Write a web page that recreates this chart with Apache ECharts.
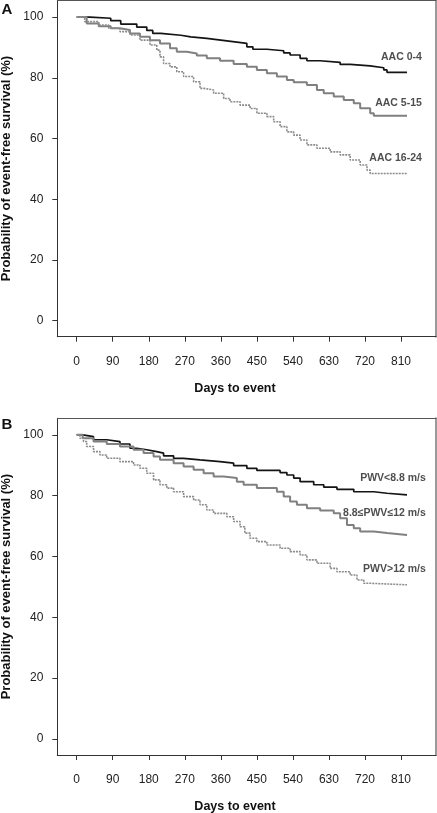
<!DOCTYPE html>
<html>
<head>
<meta charset="utf-8">
<script src="https://cdn.jsdelivr.net/npm/echarts@6/dist/echarts.min.js"></script>
<style>
html,body{margin:0;padding:0;background:#fff;}
#chart{width:437px;height:813px;}
</style>
</head>
<body>
<div id="chart"></div>
<script>
// ---- tick labels ----
var xTicks = [0, 90, 180, 270, 360, 450, 540, 630, 720, 810];
var yTicks = [0, 20, 40, 60, 80, 100];
var xTitle = 'Days to event';
var yTitle = 'Probability of event-free survival (%)';
var panelLetters = ['A', 'B'];

// ---- Panel A: AAC groups ----
var namesA = ['AAC 0-4', 'AAC 5-15', 'AAC 16-24'];
var dayA1 = [0, 33, 85, 110, 150, 175, 190, 210, 260, 285, 325, 360, 390, 425, 440, 475, 517, 533, 558, 575, 608, 658, 683, 733, 767, 775, 825];
var survA1 = [100, 99.6, 98.8, 97.7, 96.7, 95.6, 94.6, 94.0, 93.5, 93.0, 92.4, 91.9, 91.3, 90.2, 89.4, 88.9, 88.2, 87.5, 86.4, 85.6, 85.1, 84.4, 83.9, 83.3, 82.6, 81.8, 81.8];
var dayA2 = [0, 25, 55, 85, 108, 133, 158, 183, 208, 233, 250, 275, 300, 325, 358, 392, 425, 450, 475, 500, 525, 542, 575, 600, 617, 642, 667, 692, 708, 733, 742, 825];
var survA2 = [100, 97.9, 97.0, 96.3, 95.7, 94.6, 93.5, 92.4, 91.3, 89.7, 88.6, 88.0, 87.3, 86.4, 85.6, 84.5, 83.6, 82.6, 81.5, 80.4, 79.3, 78.5, 77.6, 76.0, 74.9, 73.8, 72.7, 71.6, 70.0, 68.3, 67.5, 67.5];
var dayA3 = [0, 20, 55, 80, 108, 133, 158, 183, 200, 208, 217, 233, 250, 267, 292, 308, 317, 342, 367, 383, 408, 433, 450, 475, 492, 508, 525, 542, 558, 575, 600, 633, 658, 683, 708, 725, 733, 825];
var survA3 = [100, 98.5, 97.4, 96.3, 95.2, 94.1, 92.4, 90.8, 89.1, 86.9, 84.7, 83.6, 82.0, 80.4, 78.7, 76.5, 76.0, 74.9, 73.2, 72.1, 71.0, 69.9, 68.3, 67.2, 65.5, 63.9, 62.2, 61.1, 59.5, 57.9, 56.8, 55.6, 54.6, 52.9, 51.3, 49.6, 48.5, 48.5];
// label anchor (right end) positions in data units
var labelDayA = [862, 862, 862];
var labelValA = [86.9, 71.7, 53.7];

// ---- Panel B: PWV groups ----
var namesB = ['PWV<8.8 m/s', '8.8\u2264PWV\u226412 m/s', 'PWV>12 m/s'];
var dayB1 = [0, 15, 42, 75, 108, 133, 150, 175, 200, 217, 242, 267, 308, 358, 392, 425, 450, 508, 525, 542, 558, 592, 617, 650, 692, 742, 775, 825];
var survB1 = [100, 99.4, 98.4, 97.8, 97.0, 95.6, 95.1, 94.5, 94.0, 93.1, 92.3, 91.8, 91.2, 90.7, 89.9, 89.0, 88.3, 87.6, 86.8, 85.8, 84.6, 83.6, 82.8, 82.1, 81.3, 80.8, 80.3, 80.3];
var dayB2 = [0, 15, 42, 75, 108, 142, 167, 192, 208, 242, 267, 292, 317, 342, 367, 400, 417, 450, 500, 517, 533, 550, 575, 608, 642, 658, 675, 692, 708, 742, 775, 825];
var survB2 = [100, 98.9, 97.8, 97.0, 96.2, 95.1, 94.0, 92.9, 91.8, 90.7, 89.6, 88.5, 87.4, 86.3, 85.8, 84.6, 83.6, 82.5, 81.3, 79.7, 78.1, 77.0, 75.9, 75.1, 74.2, 72.6, 70.4, 69.3, 68.2, 67.7, 67.1, 67.1];
var dayB3 = [0, 8, 17, 25, 42, 58, 75, 108, 142, 158, 175, 192, 208, 225, 242, 267, 292, 308, 325, 342, 375, 392, 408, 420, 433, 450, 475, 508, 533, 558, 575, 600, 633, 650, 683, 700, 717, 733, 825];
var survB3 = [100, 98.9, 97.8, 96.2, 94.5, 93.4, 92.3, 91.2, 90.1, 89.0, 87.4, 85.2, 83.6, 82.5, 81.3, 79.7, 78.6, 77.0, 75.3, 74.2, 73.1, 71.5, 69.8, 67.7, 66.0, 64.9, 63.8, 62.7, 61.6, 60.5, 58.9, 57.8, 56.1, 55.0, 53.9, 52.3, 51.2, 50.7, 50.7];
var labelDayB = [872, 872, 872];
var labelValB = [85.8, 74.2, 55.8];

// ---------------------------------------------------------------
var FONT = '"Liberation Sans", Arial, Helvetica, sans-serif';
var X_MIN = -48.45, X_MAX = 897.4;
var Y_MIN = -5.27, Y_MAX = 105.45;

function zip(a, b) { return a.map(function (v, i) { return [v, b[i]]; }); }

var styles = [
  { color: '#141414', width: 1.7, type: 'solid' },
  { color: '#808080', width: 2, type: 'solid' },
  { color: '#8c8c8c', width: 1.6, type: [2, 1] }
];

function bottomX(gi) {
  return {
    type: 'value', gridIndex: gi, min: X_MIN, max: X_MAX, position: 'bottom',
    splitLine: { show: false },
    axisLine: { show: true, onZero: false, lineStyle: { color: '#333', width: 1 } },
    axisTick: { show: true, length: 5, customValues: xTicks, lineStyle: { color: '#333' } },
    axisLabel: { show: true, customValues: xTicks, margin: 19, color: '#222', fontSize: 12, fontFamily: FONT }
  };
}
function topX(gi) {
  return {
    type: 'value', gridIndex: gi, min: X_MIN, max: X_MAX, position: 'top',
    splitLine: { show: false },
    axisLine: { show: true, onZero: false, lineStyle: { color: '#555', width: 1 } },
    axisTick: { show: false }, axisLabel: { show: false }
  };
}
function leftY(gi) {
  return {
    type: 'value', gridIndex: gi, min: Y_MIN, max: Y_MAX, position: 'left',
    name: yTitle, nameLocation: 'middle', nameGap: 44, nameRotate: 90, nameMoveOverlap: false,
    nameTextStyle: { fontSize: 13, fontWeight: 'bold', color: '#111', fontFamily: FONT },
    splitLine: { show: false },
    axisLine: { show: true, onZero: false, lineStyle: { color: '#333', width: 1 } },
    axisTick: { show: true, length: 5, customValues: yTicks, lineStyle: { color: '#333' } },
    axisLabel: { show: true, customValues: yTicks, margin: 14, color: '#222', fontSize: 12, fontFamily: FONT }
  };
}
function rightY(gi) {
  return {
    type: 'value', gridIndex: gi, min: Y_MIN, max: Y_MAX, position: 'right',
    splitLine: { show: false },
    axisLine: { show: true, onZero: false, lineStyle: { color: '#999', width: 2 } },
    axisTick: { show: false }, axisLabel: { show: false }
  };
}

function curve(name, days, vals, st, xi, yi) {
  return {
    type: 'line', name: name, xAxisIndex: xi, yAxisIndex: yi,
    step: 'end', showSymbol: false, symbol: 'none', animation: false,
    lineStyle: { color: st.color, width: st.width, type: st.type },
    data: zip(days, vals), z: 3
  };
}
function labels(names, ld, lv, xi, yi) {
  return {
    type: 'scatter', xAxisIndex: xi, yAxisIndex: yi, symbolSize: 0, animation: false, silent: true,
    data: names.map(function (n, i) { return { value: [ld[i], lv[i]], name: n }; }),
    label: {
      show: true, position: 'left', distance: 0,
      formatter: function (p) { return p.name; },
      fontSize: 10.5, fontWeight: 'bold', color: '#222', fontFamily: FONT
    }
  };
}

var chart = echarts.init(document.getElementById('chart'), null, { renderer: 'canvas' });
chart.setOption({
  backgroundColor: '#fff',
  animation: false,
  grid: [
    { left: 57.3, top: 0.5, width: 378.7, height: 336.2, show: false, containLabel: false, outerBoundsMode: 'none' },
    { left: 57.3, top: 418.3, width: 378.7, height: 336.7, show: false, containLabel: false, outerBoundsMode: 'none' }
  ],
  xAxis: [bottomX(0), topX(0), bottomX(1), topX(1)],
  yAxis: [leftY(0), rightY(0), leftY(1), rightY(1)],
  series: [
    curve(namesA[0], dayA1, survA1, styles[0], 0, 0),
    curve(namesA[1], dayA2, survA2, styles[1], 0, 0),
    curve(namesA[2], dayA3, survA3, styles[2], 0, 0),
    labels(namesA, labelDayA, labelValA, 0, 0),
    curve(namesB[0], dayB1, survB1, styles[0], 2, 2),
    curve(namesB[1], dayB2, survB2, styles[1], 2, 2),
    curve(namesB[2], dayB3, survB3, styles[2], 2, 2),
    labels(namesB, labelDayB, labelValB, 2, 2)
  ],
  graphic: [
    { type: 'text', left: 1.5, top: 2, style: { text: panelLetters[0], font: 'bold 15px ' + FONT, fill: '#111' } },
    { type: 'text', left: 1.5, top: 417, style: { text: panelLetters[1], font: 'bold 15px ' + FONT, fill: '#111' } },
    { type: 'text', x: 235, y: 388.7, style: { text: xTitle, font: 'bold 12.5px ' + FONT, fill: '#111', textAlign: 'center', textVerticalAlign: 'middle' } },
    { type: 'text', x: 235, y: 806.7, style: { text: xTitle, font: 'bold 12.5px ' + FONT, fill: '#111', textAlign: 'center', textVerticalAlign: 'middle' } }
  ]
});
</script>
</body>
</html>
